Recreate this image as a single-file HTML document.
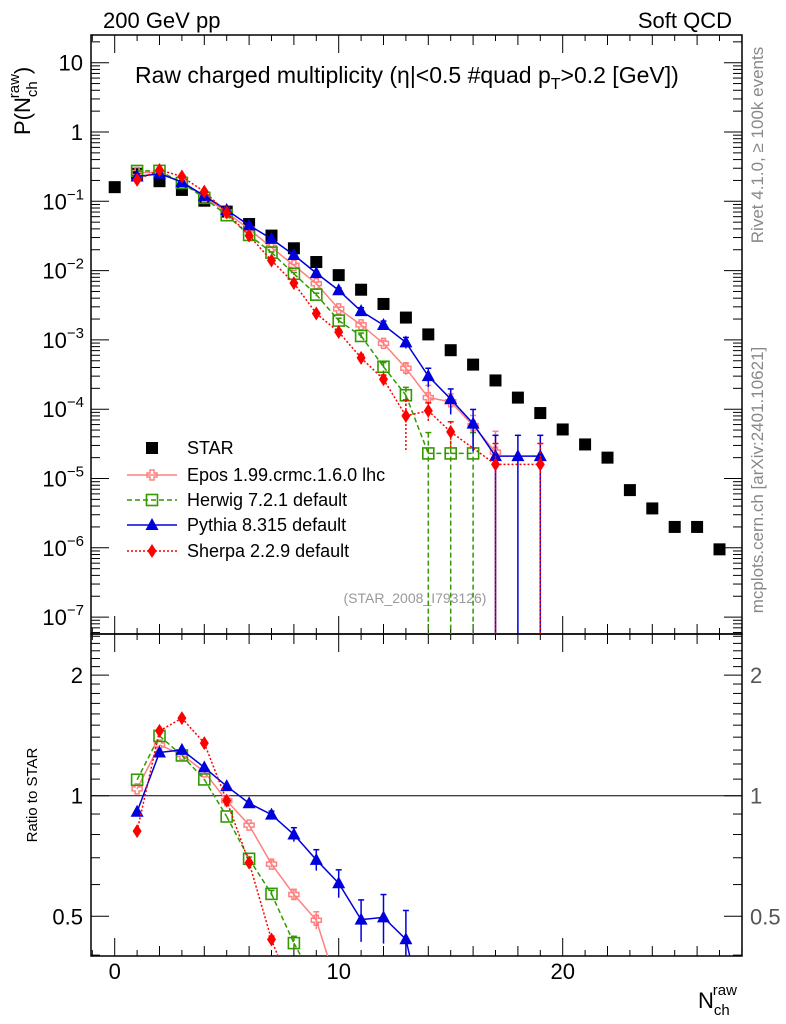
<!DOCTYPE html>
<html><head><meta charset="utf-8"><style>
html,body{margin:0;padding:0;background:#fff;overflow:hidden;width:786px;height:1024px;}
svg{display:block;font-family:"Liberation Sans",sans-serif;}
</style></head><body>
<svg id="chart" width="786" height="1024" viewBox="0 0 786 1024" xmlns="http://www.w3.org/2000/svg">
<defs>
<clipPath id="cm"><rect x="91" y="35" width="651" height="599"/></clipPath>
<clipPath id="cr"><rect x="91" y="634" width="651" height="322"/></clipPath>
</defs>
<rect x="0" y="0" width="786" height="1024" fill="#fff"/>
<text x="103" y="28" font-size="22">200 GeV pp</text>
<text x="732" y="28" font-size="22" text-anchor="end">Soft QCD</text>
<text x="135" y="83" font-size="23">Raw charged multiplicity (η|&lt;0.5 #quad p<tspan font-size="16" dy="6">T</tspan><tspan dy="-6">&gt;0.2 [GeV])</tspan></text>
<text transform="translate(763,145) rotate(-90)" font-size="17" fill="#888" text-anchor="middle">Rivet 4.1.0, ≥ 100k events</text>
<text transform="translate(763,480) rotate(-90)" font-size="17" fill="#888" text-anchor="middle">mcplots.cern.ch [arXiv:2401.10621]</text>
<text transform="translate(30,135) rotate(-90)" font-size="22">P(N<tspan font-size="15" dy="7">ch</tspan><tspan font-size="15" dx="-17" dy="-18">raw</tspan><tspan dy="11">)</tspan></text>
<text transform="translate(37,795) rotate(-90)" font-size="15" text-anchor="middle">Ratio to STAR</text>
<text x="698" y="1008" font-size="22">N<tspan font-size="15" dy="7">ch</tspan><tspan font-size="15" dx="-17" dy="-20">raw</tspan></text>
<text x="415" y="603" font-size="14" fill="#999" text-anchor="middle">(STAR_2008_I793126)</text>
<g id="axes"></g>
<g id="mainp" clip-path="url(#cm)"></g>
<g id="ratiop" clip-path="url(#cr)"></g>
<g id="legend"></g>
</svg>
<script>
const starN=[0,1,2,3,4,5,6,7,8,9,10,11,12,13,14,15,16,17,18,19,20,21,22,23,24,25,26,27];
const starV=[0.16,0.25,0.195,0.146,0.102,0.071,0.047,0.032,0.021,0.0133,0.0086,0.0053,0.0033,0.0021,0.0012,0.00071,0.00044,0.00026,0.000147,0.000088,0.000051,0.000031,0.00002,6.8e-6,3.7e-6,2e-6,2e-6,9.5e-7];
const eposN=[1,2,3,4,5,6,7,8,9,10,11,12,13,14,15,16,17];
const eposV=[0.26,0.261,0.185,0.117,0.069,0.0397,0.0216,0.0119,0.0065,0.0028,0.00165,0.00089,0.00039,0.000147,0.000128,0.000058,0.000024];
const eposE=[0,0,0,0,0,0.01,0.02,0.03,0.05,0.06,0.08,0.1,0.2,0.5,0.3,0.4,1];
const herwigN=[1,2,3,4,5,6,7,8,9,10,11,12,13,14,15,16];
const herwigV=[0.274,0.275,0.184,0.112,0.063,0.0327,0.0182,0.009,0.0045,0.0019,0.00114,0.00041,0.000159,0.000023,0.000023,0.000023];
const herwigE=[0,0,0,0,0,0.01,0.02,0.04,0.05,0.08,0.1,0.15,0.3,1,1,1];
const pythiaN=[1,2,3,4,5,6,7,8,9,10,11,12,13,14,15,16,17,18,19];
const pythiaV=[0.228,0.25,0.19,0.12,0.075,0.045,0.0287,0.0168,0.0092,0.0052,0.0026,0.00164,0.00092,0.0003,0.00014,0.000062,0.000021,0.000021,0.000021];
const pythiaE=[0,0,0,0,0,0.01,0.02,0.04,0.06,0.08,0.12,0.14,0.18,0.3,0.4,0.6,1,1,1];
const sherpaN=[1,2,3,4,5,6,7,8,9,10,11,12,13,14,15,17,19];
const sherpaV=[0.204,0.283,0.228,0.138,0.069,0.032,0.014,0.0066,0.0024,0.0013,0.00055,0.00027,0.00008,0.000095,0.000047,0.000016,0.000016];
const sherpaE=[0,0,0,0,0,0.01,0.02,0.04,0.06,0.08,0.12,0.15,0.7,0.3,0.4,1,1];
const yMainTicks=[1,0,-1,-2,-3,-4,-5,-6,-7];
const yRatioTicks=[0.5,1,2];
const xTicks=[0,10,20];

const NS="http://www.w3.org/2000/svg";
const X0=91,X1=742,Y0=35,YM=634,Y1=956;
function xs(n){return 114.7+22.4*n;}
function ym(v){return 62.7-69.3*(Math.log10(v)-1);}
function yr(r){return 795.7-400.6*Math.log10(r);}
function mk(tag,attrs,parent){const e=document.createElementNS(NS,tag);for(const k in attrs)e.setAttribute(k,attrs[k]);parent.appendChild(e);return e;}
const axes=document.getElementById('axes'),mainp=document.getElementById('mainp'),ratiop=document.getElementById('ratiop'),leg=document.getElementById('legend');

let f1=mk('rect',{x:X0,y:Y0,width:X1-X0,height:YM-Y0,fill:'none',stroke:'#000','stroke-width':1.5},axes);


let f2=mk('rect',{x:X0,y:YM,width:X1-X0,height:Y1-YM,fill:'none',stroke:'#000','stroke-width':1.5},axes);


for(let n=-1;n<=28;n++){const x=xs(n);if(x<X0||x>X1)continue;
 const L=n%10===0?18:(n%2===0?10:6);
 for(const [yb,dir] of [[Y0,1],[YM,-1],[YM,1],[Y1,-1]]){mk('line',{x1:x,x2:x,y1:yb,y2:yb+dir*L,stroke:'#000','stroke-width':1},axes);}
}
xTicks.forEach(t=>{const e=mk('text',{x:xs(t),y:979,'font-size':22,'text-anchor':'middle'},axes);e.textContent=t;
 
 });
for(let d=-8;d<=1;d++){for(let m=1;m<=9;m++){const v=m*Math.pow(10,d);const y=ym(v);if(y<Y0||y>YM)continue;
 const L=m===1?18:9;mk('line',{x1:X0,x2:X0+L,y1:y,y2:y,stroke:'#000'},axes);mk('line',{x1:X1,x2:X1-L,y1:y,y2:y,stroke:'#000'},axes);}}
yMainTicks.forEach(d=>{const y=ym(Math.pow(10,d))+8;let e;
 if(d===1){e=mk('text',{x:83,y:y,'font-size':22,'text-anchor':'end'},axes);e.textContent='10';}
 else if(d===0){e=mk('text',{x:83,y:y,'font-size':22,'text-anchor':'end'},axes);e.textContent='1';}
 else{e=mk('text',{x:84,y:y,'font-size':22,'text-anchor':'end'},axes);const t1=mk('tspan',{},e);t1.textContent='10';const t2=mk('tspan',{'font-size':15,dy:-10},e);t2.textContent='−'+(-d);}
 
 });
for(let r=0.4;r<=2.55;r+=0.1){const rr=Math.round(r*10)/10;const y=yr(rr);if(y<YM||y>Y1)continue;
 const L=(rr===0.5||rr===1||rr===2)?18:9;mk('line',{x1:X0,x2:X0+L,y1:y,y2:y,stroke:'#000'},axes);mk('line',{x1:X1,x2:X1-L,y1:y,y2:y,stroke:'#000'},axes);}
yRatioTicks.forEach(r=>{const y=yr(r)+8;
 let e=mk('text',{x:83,y:y,'font-size':22,'text-anchor':'end'},axes);e.textContent=r;
 
 
 let e2=mk('text',{x:750,y:y,'font-size':22,fill:'#555'},axes);e2.textContent=r;
 
 });
let ref=mk('line',{x1:X0,x2:X1,y1:yr(1),y2:yr(1),stroke:'#000','stroke-width':1},ratiop);



function marker(type,color,x,y,g){
 if(type==='sq')return mk('rect',{x:x-6,y:y-6,width:12,height:12,fill:'#000'},g);
 if(type==='osq')return mk('rect',{x:x-5.5,y:y-5.5,width:11,height:11,fill:'none',stroke:color,'stroke-width':1.6},g);
 if(type==='tri')return mk('polygon',{points:`${x},${y-7} ${x+6.5},${y+5} ${x-6.5},${y+5}`,fill:color},g);
 if(type==='dia')return mk('polygon',{points:`${x},${y-7} ${x+4.5},${y} ${x},${y+7} ${x-4.5},${y}`,fill:color},g);
 if(type==='cross')return mk('path',{d:`M${x-2},${y-5}h4v3h3v4h-3v3h-4v-3h-3v-4h3z`,fill:'none',stroke:color,'stroke-width':1.5},g);
}
function series(name,N,V,E,color,dash,type,g,ratio){
 const grp=mk('g',{},g);
 
 
 const starAt=n=>starV[starN.indexOf(n)];
 const bottom=ratio?Y1:YM;
 const pts=N.map((n,i)=>{const v=ratio?V[i]/starAt(n):V[i];return [xs(n),ratio?yr(v):ym(v),v];});
 // build line segments clipped at the panel bottom
 for(let i=0;i<pts.length-1;i++){
  let [xa,ya]=pts[i],[xb,yb]=pts[i+1];
  if(ya>bottom&&yb>bottom)continue;
  if(yb>bottom){const t=(bottom-ya)/(yb-ya);xb=xa+t*(xb-xa);yb=bottom;}
  if(ya>bottom){const t=(bottom-yb)/(ya-yb);xa=xb+t*(xa-xb);ya=bottom;}
  mk('line',{x1:xa,y1:ya,x2:xb,y2:yb,stroke:color,'stroke-width':1.5,'stroke-dasharray':dash},grp);
 }
 pts.forEach((p,i)=>{if(p[1]>bottom+8)return;const e=E[i];if(e>0 && !(ratio && e>=1)){const f=ratio?yr:ym;const hi=f(p[2]*(1+e));const lo=e>=1?bottom:Math.min(bottom,f(p[2]*(1-e)));
  mk('line',{x1:p[0],x2:p[0],y1:hi,y2:lo,stroke:color,'stroke-width':1.5,'stroke-dasharray':dash},grp);
  mk('line',{x1:p[0]-3,x2:p[0]+3,y1:hi,y2:hi,stroke:color,'stroke-width':1.5},grp);}
  const m=marker(type,color,p[0],p[1],grp);
  
  });
}
const sg=mk('g',{},mainp);


starN.forEach((n,i)=>{const m=marker('sq','#000',xs(n),ym(starV[i]),sg);
 
 });
const defs=[['epos',eposN,eposV,eposE,'#ff8080','','cross'],['herwig',herwigN,herwigV,herwigE,'#339900','5,3','osq'],['pythia',pythiaN,pythiaV,pythiaE,'#0000dd','','tri'],['sherpa',sherpaN,sherpaV,sherpaE,'#ff0000','2,2','dia']];
defs.forEach(d=>{series(d[0],d[1],d[2],d[3],d[4],d[5],d[6],mainp,false);series(d[0],d[1],d[2],d[3],d[4],d[5],d[6],ratiop,true);});
const labels=['STAR','Epos 1.99.crmc.1.6.0 lhc','Herwig 7.2.1 default','Pythia 8.315 default','Sherpa 2.2.9 default'];
const ly=[448,475,500,525,551];
labels.forEach((lab,i)=>{const g=mk('g',{},leg);
 
 
 if(i>0){const d=defs[i-1];mk('line',{x1:127,x2:177,y1:ly[i],y2:ly[i],stroke:d[4],'stroke-width':1.5,'stroke-dasharray':d[5]},g);marker(d[6],d[4],152,ly[i],g);}
 else marker('sq','#000',152,ly[i],g);
 const t=mk('text',{x:187,y:ly[i]+6,'font-size':18},g);t.textContent=lab;});
</script>
</body></html>
